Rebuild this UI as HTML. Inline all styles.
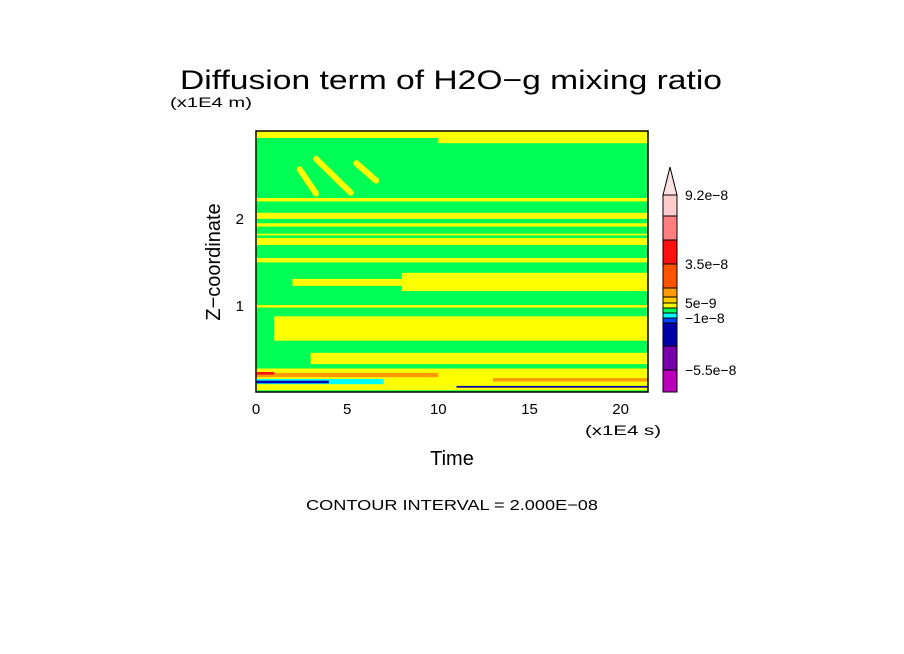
<!DOCTYPE html>
<html><head><meta charset="utf-8"><style>
html,body{margin:0;padding:0;background:#fff;}
svg{display:block;font-family:"Liberation Sans",sans-serif;}
</style></head><body>
<svg id="c" width="904" height="654" viewBox="0 0 904 654" xmlns="http://www.w3.org/2000/svg">
<text x="180" y="89" font-size="27" textLength="542" lengthAdjust="spacingAndGlyphs">Diffusion term of H2O−g mixing ratio</text>
<text x="170" y="107" font-size="14" textLength="82" lengthAdjust="spacingAndGlyphs">(x1E4 m)</text>
<text x="0" y="0" font-size="20" transform="translate(220,262) rotate(-90)" text-anchor="middle">Z−coordinate</text>
<text x="452" y="465" font-size="20" text-anchor="middle">Time</text>
<text x="585" y="435" font-size="14" textLength="76" lengthAdjust="spacingAndGlyphs">(x1E4 s)</text>
<text x="452" y="510" font-size="15" text-anchor="middle" textLength="292" lengthAdjust="spacingAndGlyphs">CONTOUR INTERVAL = 2.000E−08</text>
<g id="plot"></g>
<g id="axes"></g>
<g id="cbar"></g>
</svg>
<script>
const xTicks=[0,5,10,15,20];
const yTicks=[1,2];
const tMax=21.5, zMax=3.0;
// bands: t0,t1,z0,z1,colorIndex
const bandT0=[0,10,0,0,0,0,0,0,8,2,0,1,3,0,0,13,0,0,11,0,0];
const bandT1=[21.5,21.5,21.5,21.5,21.5,21.5,21.5,21.5,21.5,8,21.5,21.5,21.5,21.5,10,21.5,7,4,21.5,1,21.5];
const bandZ0=[2.92,2.86,2.19,1.99,1.9,1.8,1.69,1.49,1.16,1.22,0.97,0.59,0.32,0.0,0.17,0.12,0.09,0.1,0.05,0.2,0.0];
const bandZ1=[3.0,2.93,2.23,2.06,1.94,1.82,1.77,1.54,1.37,1.3,1.0,0.87,0.45,0.27,0.22,0.16,0.15,0.13,0.07,0.23,0.02];
const bandC=[6,6,6,6,6,6,6,6,6,6,6,6,6,6,4,4,8,10,10,2,7];
// streaks (yellow): t0,z0,t1,z1
const strT0=[2.4,3.3,5.5], strZ0=[2.56,2.68,2.63], strT1=[3.3,5.2,6.6], strZ1=[2.28,2.29,2.43];
const levelColors=["#ffcccc","#ff7f7f","#ff1111","#ff5500","#ff9900","#ffcc00","#ffff00","#00ff55","#00ffff","#0044ff","#0000aa","#7700aa","#bb00bb"];
const cbLabels=["9.2e-8","3.5e-8","5e-9","-1e-8","-5.5e-8"];
const cbLabelIdx=[0,3,6,9,12];
const NS="http://www.w3.org/2000/svg";
const X0=256,X1=648,Y0=392,Y1=131;
const sx=t=>X0+(t/tMax)*(X1-X0);
const sy=z=>Y0-(z/zMax)*(Y0-Y1);
function mk(tag,attrs,parent){const e=document.createElementNS(NS,tag);for(const k in attrs)e.setAttribute(k,attrs[k]);parent.appendChild(e);return e;}
const plot=document.getElementById('plot');
let bg=mk('rect',{x:X0,y:Y1,width:X1-X0,height:Y0-Y1,fill:levelColors[7]},plot);


for(let i=0;i<bandT0.length;i++){
 const r=mk('rect',{x:sx(bandT0[i]),y:sy(bandZ1[i]),width:sx(bandT1[i])-sx(bandT0[i]),height:sy(bandZ0[i])-sy(bandZ1[i]),fill:levelColors[bandC[i]]},plot);
 
 
}
for(let i=0;i<strT0.length;i++){
 const l=mk('line',{x1:sx(strT0[i]),y1:sy(strZ0[i]),x2:sx(strT1[i]),y2:sy(strZ1[i]),stroke:levelColors[6],'stroke-width':6,'stroke-linecap':'round'},plot);
 
 
}
const axes=document.getElementById('axes');
let fr=mk('rect',{x:X0,y:Y1,width:X1-X0,height:Y0-Y1,fill:'none',stroke:'#000','stroke-width':1.5},axes);


xTicks.forEach(v=>{
 const t=mk('text',{x:sx(v),y:414,'font-size':15,'text-anchor':'middle'},axes);t.textContent=v;
 
 
});
yTicks.forEach(v=>{
 const t=mk('text',{x:244,y:sy(v)+6,'font-size':15,'text-anchor':'end'},axes);t.textContent=v;
 
 
});
const cb=document.getElementById('cbar');
const edges=[195,216,240,264,288,297,303,308,313,318,323,346,370,392];
const CX=663,CW=14;
let tri=mk('polygon',{points:`${CX},195 ${CX+CW/2},167 ${CX+CW},195`,fill:'#ffe0e0',stroke:'#000','stroke-width':1},cb);


for(let i=0;i<levelColors.length;i++){
 const r=mk('rect',{x:CX,y:edges[i],width:CW,height:edges[i+1]-edges[i],fill:levelColors[i],stroke:'#000','stroke-width':1},cb);
 
 
}
cbLabels.forEach((s,i)=>{
 const k=cbLabelIdx[i];
 const t=mk('text',{x:685,y:edges[k]+5,'font-size':14},cb);t.textContent=s.replace(/-/g,'−');
 
 
});
</script>
</body></html>
